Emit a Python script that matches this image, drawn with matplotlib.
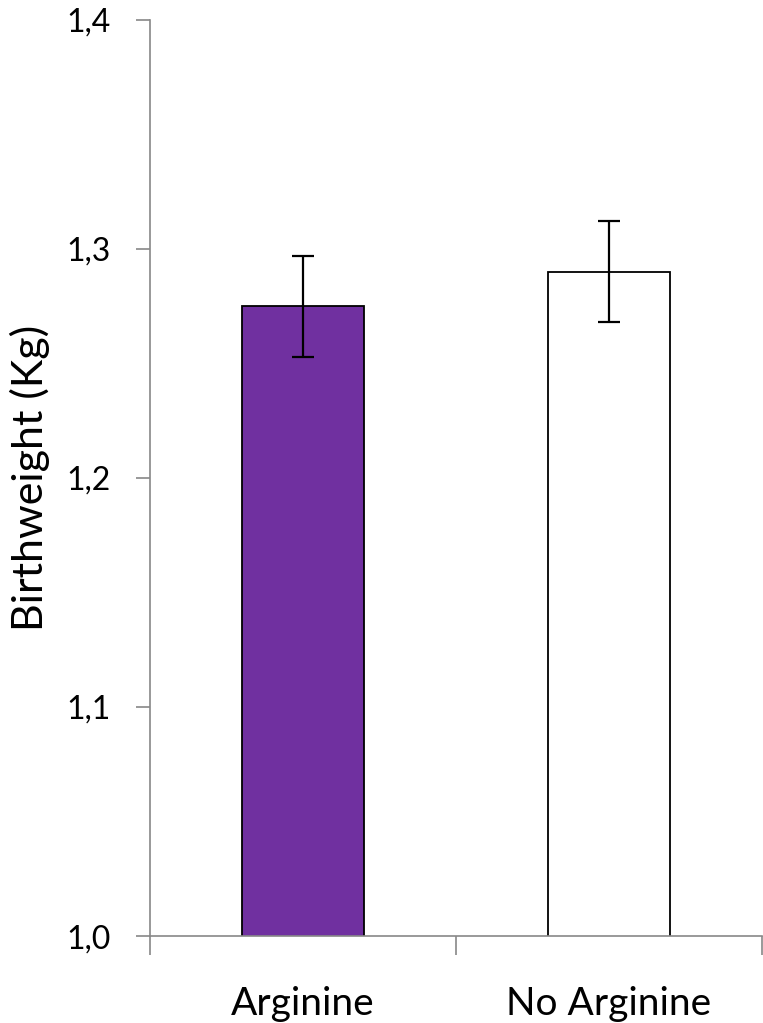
import numpy as np
import matplotlib.pyplot as plt

plt.rcParams['font.family'] = ['Lato', 'DejaVu Sans']

# Data
groups = ['Arginine', 'No Arginine']
weights = [1.275, 1.290]
errors = [0.022, 0.022]
bar_colors = ['#7030A0', '#FFFFFF']
y_ticks = [1.0, 1.1, 1.2, 1.3, 1.4]
y_tick_labels = ['1,0', '1,1', '1,2', '1,3', '1,4']

fig = plt.figure(figsize=(7.63, 10.23), dpi=100)
ax = fig.add_axes([0.1966, 0.085, 0.8017, 0.8955])

x = np.arange(len(groups))
ax.bar(x, weights, width=0.4, color=bar_colors, edgecolor='black', linewidth=1.3, zorder=2)
ax.errorbar(x, weights, yerr=errors, fmt='none', ecolor='black',
            elinewidth=1.6, capsize=8, capthick=1.6, zorder=3)

ax.set_ylim(1.0, 1.4)
ax.set_xlim(-0.5, 1.5)
ax.set_yticks(y_ticks)
ax.set_yticklabels(y_tick_labels, fontsize=23)
ax.set_xticks(x)
ax.set_xticklabels(groups, fontsize=28)
ax.set_xticks([-0.5, 0.5, 1.5], minor=True)

ax.tick_params(axis='y', direction='out', length=10, width=1.2, color='#888888', pad=18)
ax.tick_params(axis='x', which='major', length=0, pad=36)
ax.tick_params(axis='x', which='minor', direction='out', length=14, width=1.2, color='#888888')

for side in ['top', 'right']:
    ax.spines[side].set_visible(False)
for side in ['left', 'bottom']:
    ax.spines[side].set_color('#888888')
    ax.spines[side].set_linewidth(1.2)

ax.set_ylabel('Birthweight (Kg)', fontsize=31, labelpad=12)

fig.savefig('out.png', dpi=100)
